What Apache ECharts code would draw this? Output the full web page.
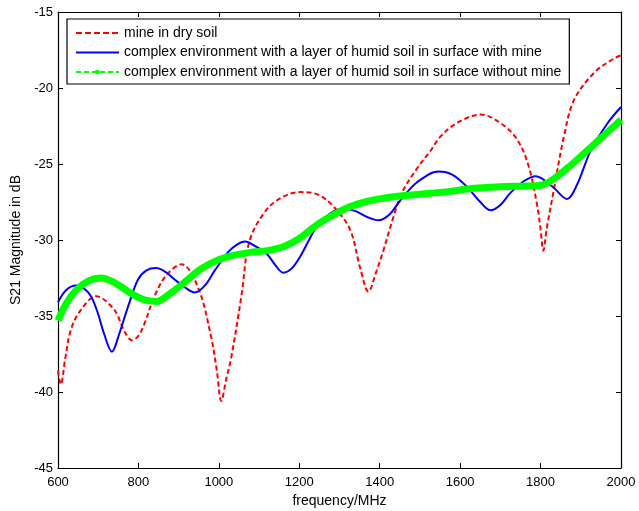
<!DOCTYPE html>
<html>
<head>
<meta charset="utf-8">
<script src="https://cdn.jsdelivr.net/npm/echarts@6/dist/echarts.min.js"></script>
<style>
html,body{margin:0;padding:0;background:#fff;}
#chart{width:639px;height:511px;}
</style>
</head>
<body>
<div id="chart"></div>
<script>
// Series names
var seriesNames = [
  'mine in dry soil',
  'complex environment with a layer of humid soil in surface with mine',
  'complex environment with a layer of humid soil in surface without mine'
];
// Axis ticks
var xTicks = [600, 800, 1000, 1200, 1400, 1600, 1800, 2000];
var yTicks = [-45, -40, -35, -30, -25, -20, -15];

// mine in dry soil (red dashed)
var redFreq = [600, 607, 618, 632, 657, 695, 740, 765, 784, 800, 815, 840, 870, 907, 948, 981, 995, 1006, 1018, 1031, 1056, 1077, 1119, 1160, 1202, 1245, 1285, 1326, 1351, 1372, 1390, 1409, 1434, 1455, 1490, 1527, 1551, 1592, 1651, 1700, 1742, 1771, 1792, 1800, 1807, 1815, 1833, 1858, 1883, 1933, 1983, 2000];
var redDb   = [-38.6, -39.5, -37.8, -35.9, -34.6, -33.7, -34.6, -36.0, -36.6, -36.3, -35.5, -33.7, -32.3, -31.6, -33.1, -36.4, -38.6, -40.6, -39.2, -37.7, -33.7, -30.0, -28.0, -27.15, -26.85, -27.0, -27.8, -29.3, -31.8, -33.4, -32.2, -30.7, -28.5, -26.9, -25.4, -24.1, -23.2, -22.3, -21.75, -22.3, -23.4, -25.2, -27.8, -29.3, -30.7, -29.3, -26.7, -23.2, -20.8, -19.0, -18.05, -17.85];

// with mine (blue solid)
var blueFreq = [600, 620, 645, 665, 682, 699, 715, 734, 752, 774, 799, 820, 844, 867, 890, 915, 940, 965, 990, 1023, 1045, 1065, 1090, 1119, 1139, 1160, 1180, 1202, 1244, 1280, 1310, 1340, 1370, 1397, 1425, 1451, 1493, 1547, 1580, 1617, 1650, 1676, 1700, 1725, 1760, 1788, 1830, 1866, 1890, 1925, 1967, 2000];
var blueDb   = [-34.1, -33.3, -33.0, -33.2, -33.7, -34.8, -36.2, -37.35, -36.2, -34.4, -32.6, -32.0, -31.85, -32.1, -32.6, -33.1, -33.45, -33.0, -32.0, -30.8, -30.3, -30.1, -30.4, -30.9, -31.6, -32.15, -31.9, -31.1, -29.1, -28.2, -27.95, -28.1, -28.5, -28.7, -28.3, -27.4, -26.2, -25.5, -25.7, -26.5, -27.5, -28.05, -27.7, -26.9, -26.1, -25.8, -26.5, -27.3, -26.4, -24.1, -22.3, -21.25];

// without mine (green thick)
var greenFreq = [600, 620, 645, 675, 707, 740, 775, 810, 844, 880, 923, 950, 982, 1023, 1081, 1120, 1160, 1200, 1244, 1285, 1327, 1370, 1409, 1450, 1493, 1535, 1576, 1634, 1700, 1760, 1800, 1820, 1842, 1870, 1900, 1950, 2000];
var greenDb   = [-35.3, -34.2, -33.3, -32.7, -32.5, -32.8, -33.4, -33.9, -34.05, -33.5, -32.6, -32.0, -31.5, -31.1, -30.8, -30.7, -30.45, -29.9, -29.0, -28.35, -27.8, -27.45, -27.25, -27.1, -27.0, -26.9, -26.8, -26.6, -26.5, -26.45, -26.4, -26.2, -25.8, -25.2, -24.5, -23.3, -22.1];

function pairs(xs, ys) { return xs.map(function (x, i) { return [x, ys[i]]; }); }

var FONT = '"Liberation Sans", Arial, sans-serif';
var chart = echarts.init(document.getElementById('chart'), null, {renderer: 'canvas'});

var baseX = {
  type: 'value', min: 600, max: 2000, interval: 200,
  splitLine: {show: false},
  axisLine: {show: true, onZero: false, lineStyle: {color: '#000', width: 1.2}},
  axisTick: {show: true, inside: true, length: 5, lineStyle: {color: '#000'}}
};
var baseY = {
  type: 'value', min: -45, max: -15, interval: 5,
  splitLine: {show: false},
  axisLine: {show: true, onZero: false, lineStyle: {color: '#000', width: 1.2}},
  axisTick: {show: true, inside: true, length: 5, lineStyle: {color: '#000'}}
};

chart.setOption({
  animation: false,
  backgroundColor: '#fff',
  textStyle: {fontFamily: FONT},
  grid: {left: 58, right: 18, top: 12, bottom: 43, containLabel: false, outerBoundsMode: 'none'},
  legend: {
    orient: 'vertical',
    left: 67, top: 19,
    padding: [7, 8, 5, 8],
    itemWidth: 43, itemHeight: 5, itemGap: 5.5,
    backgroundColor: '#fff',
    borderColor: '#000', borderWidth: 1.2, borderRadius: 0,
    textStyle: {fontFamily: FONT, fontSize: 14, color: '#000'},
    data: [
      {name: seriesNames[0], itemStyle: {opacity: 0}, lineStyle: {width: 2, type: [6, 3], color: '#ff0000'}},
      {name: seriesNames[1], itemStyle: {opacity: 0}, lineStyle: {width: 2, color: '#0000ff'}},
      {name: seriesNames[2], lineStyle: {width: 2, type: [5, 3], color: '#00ff00'}}
    ]
  },
  xAxis: [
    Object.assign({}, baseX, {
      position: 'bottom',
      name: 'frequency/MHz', nameLocation: 'middle', nameGap: 25,
      nameTextStyle: {fontFamily: FONT, fontSize: 14, color: '#000'},
      axisLabel: {show: true, color: '#000', fontFamily: FONT, fontSize: 13, margin: 8,
        formatter: function (v) { return xTicks.indexOf(v) >= 0 ? String(v) : ''; }}
    }),
    Object.assign({}, baseX, {position: 'top', axisLabel: {show: false}})
  ],
  yAxis: [
    Object.assign({}, baseY, {
      position: 'left',
      name: 'S21 Magnitude in dB', nameLocation: 'middle', nameGap: 32,
      nameTextStyle: {fontFamily: FONT, fontSize: 14, color: '#000'},
      axisLabel: {show: true, color: '#000', fontFamily: FONT, fontSize: 13, margin: 5,
        formatter: function (v) { return yTicks.indexOf(v) >= 0 ? String(v) : ''; }}
    }),
    Object.assign({}, baseY, {position: 'right', axisLabel: {show: false}})
  ],
  series: [
    {
      name: seriesNames[0], type: 'line', xAxisIndex: 0, yAxisIndex: 0,
      data: pairs(redFreq, redDb), smooth: 0.35, symbol: 'none',
      lineStyle: {color: '#ff0000', width: 2, type: [5, 3]}, itemStyle: {color: '#ff0000'}, z: 3
    },
    {
      name: seriesNames[1], type: 'line', xAxisIndex: 0, yAxisIndex: 0,
      data: pairs(blueFreq, blueDb), smooth: 0.35, symbol: 'none',
      lineStyle: {color: '#0000ff', width: 2}, itemStyle: {color: '#0000ff'}, z: 4
    },
    {
      name: seriesNames[2], type: 'line', xAxisIndex: 0, yAxisIndex: 0,
      data: pairs(greenFreq, greenDb), smooth: 0.35, symbol: 'rect', symbolSize: 5, showSymbol: false,
      lineStyle: {color: '#00ff00', width: 7}, itemStyle: {color: '#00ff00'}, z: 5
    }
  ]
});
</script>
</body>
</html>
